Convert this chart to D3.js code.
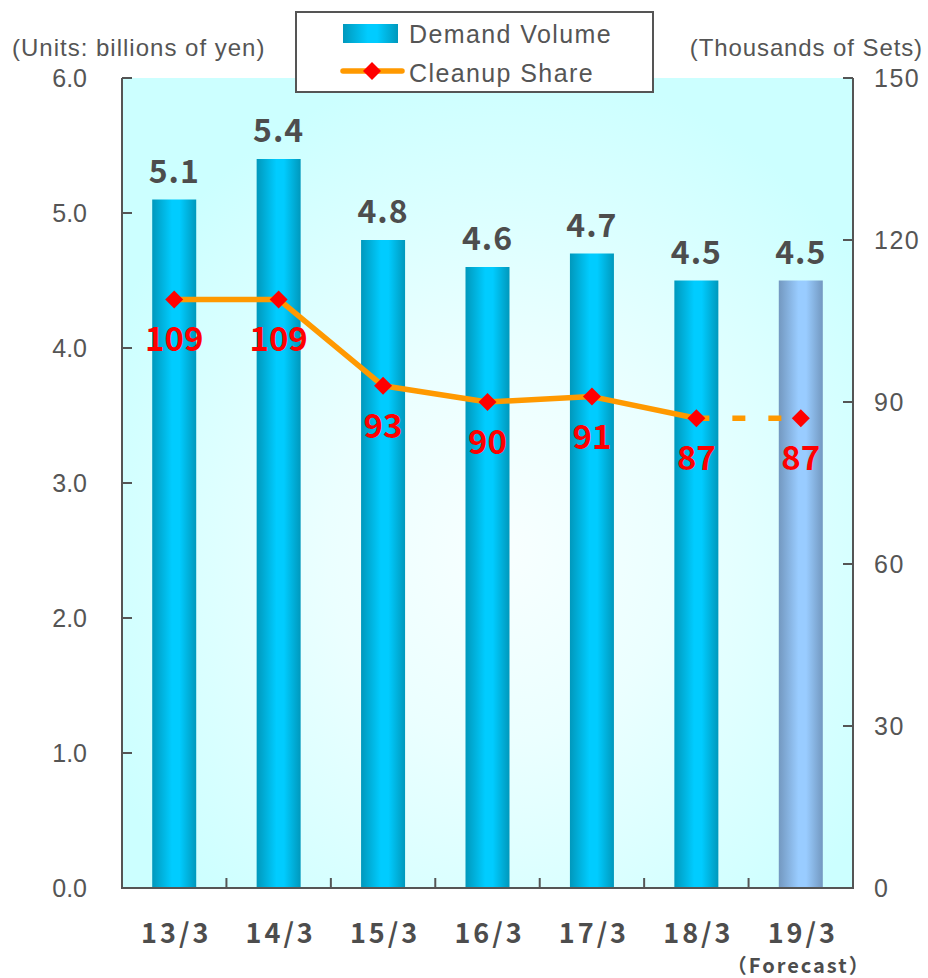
<!DOCTYPE html>
<html>
<head>
<meta charset="utf-8">
<script src="https://cdn.jsdelivr.net/npm/d3@7"></script>
<style>
  html, body { margin: 0; padding: 0; background: #fff; }
  svg { display: block; }
</style>
</head>
<body>
<svg id="chart" width="928" height="978"></svg>
<script>
// Fiscal years (ending in March)
const categories = ["13/3", "14/3", "15/3", "16/3", "17/3", "18/3", "19/3"];
// Demand volume, billions of yen
const demand = [5.1, 5.4, 4.8, 4.6, 4.7, 4.5, 4.5];
// Cleanup share, thousands of sets
const cleanup = [109, 109, 93, 90, 91, 87, 87];
// Last year is a forecast
const forecastIndex = 6;
const leftTicks = [0, 1, 2, 3, 4, 5, 6];
const rightTicks = [0, 30, 60, 90, 120, 150];

const svg = d3.select("#chart");
const m = { left: 122, right: 853, top: 78, bottom: 888 };

const x = d3.scaleBand().domain(categories).range([m.left, m.right]).paddingInner(0).paddingOuter(0);
const yL = d3.scaleLinear().domain([0, 6]).range([m.bottom, m.top]);
const yR = d3.scaleLinear().domain([0, 150]).range([m.bottom, m.top]);

const defs = svg.append("defs");
const bg = defs.append("radialGradient").attr("id", "bg")
  .attr("cx", "52%").attr("cy", "58%").attr("r", "60%");
bg.append("stop").attr("offset", "0%").attr("stop-color", "#f8ffff");
bg.append("stop").attr("offset", "40%").attr("stop-color", "#ebffff");
bg.append("stop").attr("offset", "100%").attr("stop-color", "#ccffff");

function barGrad(id, edge, mid) {
  const g = defs.append("linearGradient").attr("id", id)
    .attr("x1", "0%").attr("x2", "100%").attr("y1", "0%").attr("y2", "0%");
  g.append("stop").attr("offset", "0%").attr("stop-color", edge);
  g.append("stop").attr("offset", "45%").attr("stop-color", mid);
  g.append("stop").attr("offset", "62%").attr("stop-color", mid);
  g.append("stop").attr("offset", "100%").attr("stop-color", edge);
}
barGrad("barBlue", "#0098bc", "#00ccff");
barGrad("barFcst", "#7398c0", "#99ccff");

// Plot background
svg.append("rect")
  .attr("x", m.left).attr("y", m.top)
  .attr("width", m.right - m.left).attr("height", m.bottom - m.top)
  .attr("fill", "url(#bg)");

// Bars
const barW = 44;
svg.append("g").selectAll("rect").data(demand).join("rect")
  .attr("x", (d, i) => x(categories[i]) + x.bandwidth() / 2 - barW / 2)
  .attr("y", d => yL(d))
  .attr("width", barW)
  .attr("height", d => yL(0) - yL(d))
  .attr("fill", (d, i) => i === forecastIndex ? "url(#barFcst)" : "url(#barBlue)");

// Bar value labels
svg.append("g").selectAll("text").data(demand).join("text")
  .attr("x", (d, i) => x(categories[i]) + x.bandwidth() / 2)
  .attr("y", d => yL(d) - 17)
  .attr("text-anchor", "middle")
  .attr("font-family", "'Noto Sans CJK JP', 'Noto Sans', sans-serif")
  .attr("font-weight", "bold")
  .attr("font-size", 32)
  .attr("letter-spacing", 1)
  .attr("fill", "#4d4d4d")
  .text(d => d.toFixed(1));

// Axes lines and ticks
const axisColor = "#555555";
const axisG = svg.append("g").attr("stroke", axisColor).attr("stroke-width", 2).attr("fill", "none");
axisG.append("line").attr("x1", m.left).attr("x2", m.left).attr("y1", m.top).attr("y2", m.bottom + 1);
axisG.append("line").attr("x1", m.right).attr("x2", m.right).attr("y1", m.top).attr("y2", m.bottom + 1);
axisG.append("line").attr("x1", m.left - 1).attr("x2", m.right + 1).attr("y1", m.bottom).attr("y2", m.bottom);

axisG.selectAll(".lt").data(leftTicks).join("line")
  .attr("x1", m.left).attr("x2", m.left + 10)
  .attr("y1", d => yL(d)).attr("y2", d => yL(d));
axisG.selectAll(".rt").data(rightTicks).join("line")
  .attr("x1", m.right - 10).attr("x2", m.right)
  .attr("y1", d => yR(d)).attr("y2", d => yR(d));
axisG.selectAll(".xt").data(categories.slice(1)).join("line")
  .attr("x1", d => x(d)).attr("x2", d => x(d))
  .attr("y1", m.bottom).attr("y2", m.bottom - 10);

// Axis tick labels
const labelFont = "'Liberation Sans', Arial, sans-serif";
svg.append("g").selectAll("text").data(leftTicks).join("text")
  .attr("x", 87).attr("y", d => yL(d) + 9)
  .attr("text-anchor", "end")
  .attr("font-family", labelFont).attr("font-size", 25).attr("fill", "#555555")
  .text(d => d.toFixed(1));
svg.append("g").selectAll("text").data(rightTicks).join("text")
  .attr("x", 874).attr("y", d => yR(d) + 9)
  .attr("text-anchor", "start")
  .attr("font-family", labelFont).attr("font-size", 25).attr("fill", "#555555")
  .attr("letter-spacing", 1.5)
  .text(d => d);

svg.append("text").attr("x", 12).attr("y", 56)
  .attr("font-family", labelFont).attr("font-size", 24).attr("fill", "#555555")
  .attr("letter-spacing", 1)
  .text("(Units: billions of yen)");
svg.append("text").attr("x", 923).attr("y", 56).attr("text-anchor", "end")
  .attr("font-family", labelFont).attr("font-size", 24).attr("fill", "#555555")
  .attr("letter-spacing", 0.9)
  .text("(Thousands of Sets)");

// Category labels
svg.append("g").selectAll("text").data(categories).join("text")
  .attr("x", d => x(d) + x.bandwidth() / 2 + 2)
  .attr("y", 943)
  .attr("text-anchor", "middle")
  .attr("font-family", "'Noto Sans CJK JP', sans-serif")
  .attr("font-weight", "bold").attr("font-size", 27)
  .attr("letter-spacing", 3)
  .attr("fill", "#4d4d4d")
  .text(d => d);
svg.append("text")
  .attr("x", x(categories[forecastIndex]) + x.bandwidth() / 2 - 2)
  .attr("y", 973)
  .attr("text-anchor", "middle")
  .attr("font-family", "'Noto Sans CJK JP', sans-serif")
  .attr("font-weight", "bold").attr("font-size", 20)
  .attr("letter-spacing", 2)
  .attr("fill", "#4d4d4d")
  .text("（Forecast）");

// Cleanup share line
const cx = i => x(categories[i]) + x.bandwidth() / 2;
const pts = cleanup.map((v, i) => [cx(i), yR(v)]);
const line = d3.line();
svg.append("path")
  .attr("d", line(pts.slice(0, forecastIndex)))
  .attr("fill", "none").attr("stroke", "#ff9900").attr("stroke-width", 5.5)
  .attr("stroke-linejoin", "round");
svg.append("path")
  .attr("d", line(pts.slice(forecastIndex - 1)))
  .attr("fill", "none").attr("stroke", "#ff9900").attr("stroke-width", 5.5)
  .attr("stroke-dasharray", "13 23");

const marker = d3.symbol().type(d3.symbolSquare).size(162);
svg.append("g").selectAll("path").data(pts).join("path")
  .attr("transform", d => `translate(${d[0]},${d[1]}) rotate(45)`)
  .attr("d", marker)
  .attr("fill", "#ff0000");

svg.append("g").selectAll("text").data(cleanup).join("text")
  .attr("x", (d, i) => cx(i))
  .attr("y", d => yR(d) + 52)
  .attr("text-anchor", "middle")
  .attr("font-family", "'Noto Sans CJK JP', 'Noto Sans', sans-serif")
  .attr("font-weight", "bold").attr("font-size", 33)
  .attr("fill", "#ff0000")
  .text(d => d);

// Legend
const lg = svg.append("g");
lg.append("rect").attr("x", 296).attr("y", 12).attr("width", 357).attr("height", 80)
  .attr("fill", "#ffffff").attr("stroke", "#555555").attr("stroke-width", 2);
lg.append("rect").attr("x", 343).attr("y", 24).attr("width", 55).attr("height", 19)
  .attr("fill", "url(#barBlue)");
lg.append("text").attr("x", 409).attr("y", 43)
  .attr("font-family", labelFont).attr("font-size", 25).attr("fill", "#555555")
  .attr("letter-spacing", 1.4)
  .text("Demand Volume");
lg.append("line").attr("x1", 343).attr("x2", 402).attr("y1", 71).attr("y2", 71)
  .attr("stroke", "#ff9900").attr("stroke-width", 5.5).attr("stroke-linecap", "round");
lg.append("path").attr("transform", "translate(372,71) rotate(45)")
  .attr("d", marker)
  .attr("fill", "#ff0000");
lg.append("text").attr("x", 409).attr("y", 82)
  .attr("font-family", labelFont).attr("font-size", 25).attr("fill", "#555555")
  .attr("letter-spacing", 1.4)
  .text("Cleanup Share");
</script>
</body>
</html>
